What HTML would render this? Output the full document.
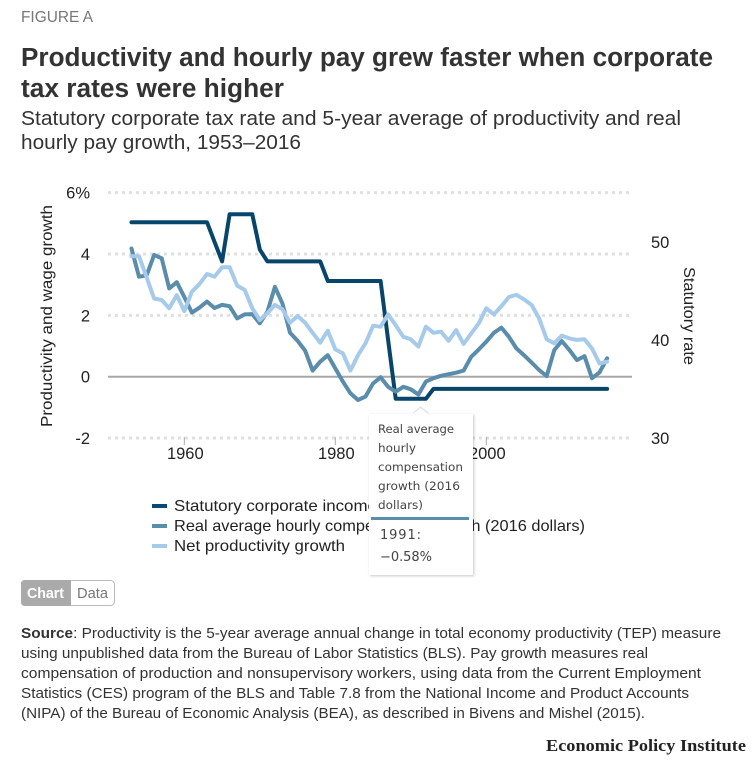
<!DOCTYPE html>
<html lang="en">
<head>
<meta charset="utf-8">
<title>Productivity and hourly pay grew faster when corporate tax rates were higher</title>
<style>
html,body{margin:0;padding:0;background:#fff;width:754px;height:761px;overflow:hidden}
svg{display:block;position:absolute;left:0;top:0}
text{font-family:"Liberation Sans",sans-serif;fill:#333}
.src{font-size:14.5px;fill:#333}
.tt{font-family:"DejaVu Sans",sans-serif;font-size:11.5px;fill:#444}
.tick{font-size:16.5px;fill:#222}
.leg{font-size:16px;fill:#222}
</style>
</head>
<body>
<svg id="root" width="754" height="761" viewBox="0 0 754 761" xmlns="http://www.w3.org/2000/svg">
  <defs>
    <filter id="shadow" x="-10%" y="-10%" width="125%" height="120%">
      <feDropShadow dx="1" dy="1" stdDeviation="1.2" flood-color="#000" flood-opacity="0.22"/>
    </filter>
  </defs>

  <text x="21" y="22" font-size="15.5" style="fill:#777" textLength="72" lengthAdjust="spacingAndGlyphs">FIGURE A</text>
  <text x="21" y="66" font-size="25.5" font-weight="bold" textLength="692" lengthAdjust="spacingAndGlyphs">Productivity and hourly pay grew faster when corporate</text>
  <text x="21" y="97" font-size="25.5" font-weight="bold" textLength="263" lengthAdjust="spacingAndGlyphs">tax rates were higher</text>
  <text x="21" y="125" font-size="20.5" textLength="660" lengthAdjust="spacingAndGlyphs">Statutory corporate tax rate and 5-year average of productivity and real</text>
  <text x="21" y="149" font-size="20.5" textLength="280" lengthAdjust="spacingAndGlyphs">hourly pay growth, 1953–2016</text>

  <g id="chart"></g>

  <text transform="translate(52,316) rotate(-90)" text-anchor="middle" font-size="15.5" style="fill:#222" textLength="222" lengthAdjust="spacingAndGlyphs">Productivity and wage growth</text>
  <text transform="translate(684,316) rotate(90)" text-anchor="middle" font-size="15.5" style="fill:#222" textLength="98" lengthAdjust="spacingAndGlyphs">Statutory rate</text>

  <g>
    <g>
      <line x1="152" x2="167" y1="506" y2="506" stroke="#0a4a6e" stroke-width="4"/>
      <text class="leg" x="174" y="511" textLength="264" lengthAdjust="spacingAndGlyphs">Statutory corporate income tax rate</text>
    </g>
    <g>
      <line x1="152" x2="167" y1="526" y2="526" stroke="#5a8cab" stroke-width="4"/>
      <text class="leg" x="174" y="531" textLength="411" lengthAdjust="spacingAndGlyphs">Real average hourly compensation growth (2016 dollars)</text>
    </g>
    <g>
      <line x1="152" x2="167" y1="546" y2="546" stroke="#a6cbea" stroke-width="4"/>
      <text class="leg" x="174" y="551" textLength="171" lengthAdjust="spacingAndGlyphs">Net productivity growth</text>
    </g>
  </g>

  <g>
    <path d="M369 414 H413 L420.500 407 L428 414 H473 V575 H369 Z" fill="#fff" filter="url(#shadow)"/>
    <path d="M413.500 413 L420.500 407 L427.500 413" fill="none" stroke="#ddd" stroke-width="1"/>
    <text class="tt" x="378" y="433" textLength="76" lengthAdjust="spacingAndGlyphs">Real average</text>
    <text class="tt" x="378" y="452" textLength="38" lengthAdjust="spacingAndGlyphs">hourly</text>
    <text class="tt" x="378" y="471" textLength="85" lengthAdjust="spacingAndGlyphs">compensation</text>
    <text class="tt" x="378" y="490" textLength="82" lengthAdjust="spacingAndGlyphs">growth (2016</text>
    <text class="tt" x="378" y="509" textLength="45" lengthAdjust="spacingAndGlyphs">dollars)</text>
    <rect x="371" y="517" width="98" height="3" fill="#5a8cab"/>
    <text class="tt" x="380" y="539" style="font-size:13px" textLength="41" lengthAdjust="spacing">1991:</text>
    <text class="tt" x="380" y="561" style="font-size:13px" textLength="52" lengthAdjust="spacing">−0.58%</text>
  </g>

  <g>
    <rect x="21.500" y="580.500" width="93" height="25" rx="4" fill="#fff" stroke="#bbb"/>
    <path d="M25 580 H71 V606 H25 Q21 606 21 602 V584 Q21 580 25 580 Z" fill="#aaa"/>
    <text x="27" y="598" font-size="14.500" font-weight="bold" style="fill:#fff" textLength="37" lengthAdjust="spacingAndGlyphs">Chart</text>
    <text x="77" y="598" font-size="14.500" style="fill:#777" textLength="31" lengthAdjust="spacingAndGlyphs">Data</text>
  </g>

  <g>
    <text class="src" x="21" y="638" textLength="700" lengthAdjust="spacingAndGlyphs"><tspan font-weight="bold">Source</tspan>: Productivity is the 5-year average annual change in total economy productivity (TEP) measure</text>
    <text class="src" x="21" y="658" textLength="627" lengthAdjust="spacingAndGlyphs">using unpublished data from the Bureau of Labor Statistics (BLS). Pay growth measures real</text>
    <text class="src" x="21" y="678" textLength="680" lengthAdjust="spacingAndGlyphs">compensation of production and nonsupervisory workers, using data from the Current Employment</text>
    <text class="src" x="21" y="698" textLength="668" lengthAdjust="spacingAndGlyphs">Statistics (CES) program of the BLS and Table 7.8 from the National Income and Product Accounts</text>
    <text class="src" x="21" y="718" textLength="624" lengthAdjust="spacingAndGlyphs">(NIPA) of the Bureau of Economic Analysis (BEA),  as described in Bivens and Mishel (2015).</text>
  </g>

  <text x="546" y="751" font-size="17" font-weight="bold" style="font-family:'Liberation Serif',serif;fill:#222" textLength="200" lengthAdjust="spacingAndGlyphs">Economic Policy Institute</text>
</svg>

<script>
const years = [1953,1954,1955,1956,1957,1958,1959,1960,1961,1962,1963,1964,1965,1966,1967,1968,1969,1970,1971,1972,1973,1974,1975,1976,1977,1978,1979,1980,1981,1982,1983,1984,1985,1986,1987,1988,1989,1990,1991,1992,1993,1994,1995,1996,1997,1998,1999,2000,2001,2002,2003,2004,2005,2006,2007,2008,2009,2010,2011,2012,2013,2014,2015,2016];
const statutoryRate = [52,52,52,52,52,52,52,52,52,52,52,50,48,52.8,52.8,52.8,52.8,49.2,48,48,48,48,48,48,48,48,46,46,46,46,46,46,46,46,40,34,34,34,34,34,35,35,35,35,35,35,35,35,35,35,35,35,35,35,35,35,35,35,35,35,35,35,35,35];
const compensationGrowth = [4.18,3.26,3.3,3.97,3.86,2.88,3.08,2.6,2.09,2.25,2.45,2.24,2.34,2.3,1.9,2.03,2.04,1.74,2.12,2.93,2.39,1.43,1.17,0.85,0.2,0.49,0.7,0.27,-0.16,-0.54,-0.76,-0.65,-0.22,-0.02,-0.33,-0.49,-0.33,-0.41,-0.58,-0.16,-0.05,0.03,0.08,0.13,0.2,0.65,0.89,1.14,1.43,1.6,1.3,0.92,0.7,0.46,0.22,0.02,0.87,1.16,0.87,0.54,0.67,-0.05,0.14,0.6];
const productivityGrowth = [3.93,3.93,3.24,2.55,2.5,2.23,2.66,2.14,2.77,3.02,3.35,3.26,3.57,3.57,2.97,2.83,2.23,1.85,2.07,2.34,2.2,1.76,1.98,1.76,1.43,1.11,1.5,0.89,0.76,0.2,0.7,1.09,1.66,1.63,2.03,1.68,1.3,1.22,0.98,1.63,1.43,1.47,1.17,1.52,1.07,1.41,1.74,2.23,2.03,2.3,2.6,2.67,2.52,2.34,1.9,1.22,1.09,1.34,1.25,1.2,1.22,0.92,0.43,0.49];
const leftTicks = [-2,0,2,4,6];
const leftTickLabels = ["-2","0","2","4","6%"];
const rightTicks = [30,40,50];
const xTicks = [1960,1980,2000];

function xScale(year){ return 184.3 + (year - 1960) * 7.55; }
function yLeft(v){ return 376.7 - v * 30.67; }
function yRight(v){ return 438 - (v - 30) * 9.81; }

const NS = "http://www.w3.org/2000/svg";
const chart = document.getElementById("chart");
function make(tag, attrs, text){
  const el = document.createElementNS(NS, tag);
  for (const k in attrs) el.setAttribute(k, attrs[k]);
  if (text !== undefined) el.textContent = text;
  chart.appendChild(el);
  return el;
}

leftTicks.forEach(function(t, i){
  const isZero = t === 0;
  const grid = make("line", {
    x1: 108, x2: 632, y1: yLeft(t), y2: yLeft(t),
    stroke: isZero ? "#a8a8a8" : "#e0e0e0",
    "stroke-width": isZero ? 2 : 3,
    "stroke-dasharray": isZero ? "none" : "3 4"
  });
  
  
  const lab = make("text", { class: "tick", x: 90, y: yLeft(t) + 6, "text-anchor": "end" }, leftTickLabels[i]);
  
  
});

rightTicks.forEach(function(t){
  const lab = make("text", { class: "tick", x: 651, y: yRight(t) + 6 }, String(t));
  
  
});

xTicks.forEach(function(t){
  const mark = make("line", { x1: xScale(t), x2: xScale(t), y1: 437, y2: 445, stroke: "#aaa", "stroke-width": 1 });
  
  
  const lab = make("text", { class: "tick", x: xScale(t) + 1, y: 459, "text-anchor": "middle" }, String(t));
  
  
});

function linePoints(values, yFn){
  return values.map(function(v, i){ return xScale(years[i]).toFixed(1) + "," + yFn(v).toFixed(1); }).join(" ");
}

const statutoryLine = make("polyline", { points: linePoints(statutoryRate, yRight), fill: "none", stroke: "#07466a", "stroke-width": 4, "stroke-linejoin": "round", "stroke-linecap": "round" });



const compensationLine = make("polyline", { points: linePoints(compensationGrowth, yLeft), fill: "none", stroke: "#5a8cab", "stroke-width": 4, "stroke-linejoin": "round", "stroke-linecap": "round" });



const productivityLine = make("polyline", { points: linePoints(productivityGrowth, yLeft), fill: "none", stroke: "#a6cbea", "stroke-width": 4, "stroke-linejoin": "round", "stroke-linecap": "round" });


</script>
</body>
</html>
